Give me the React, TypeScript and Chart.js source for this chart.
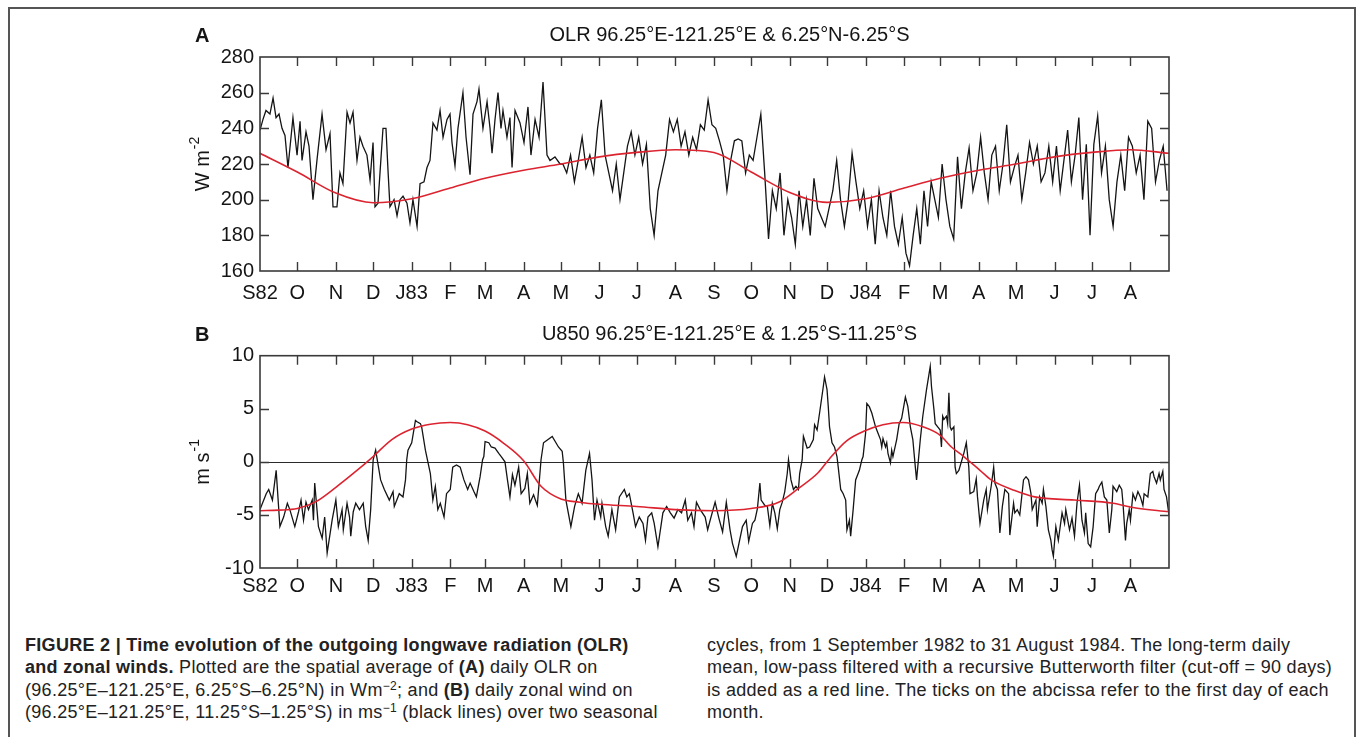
import React, { useEffect, useRef } from "react";
import { Chart, registerables } from "chart.js";

Chart.register(...registerables);

// ---------------- DATA ----------------
// days since 1 Sep 1982 of the first day of each month (last = 31 Aug 1984 end)
const monthStarts = [0, 30, 61, 91, 122, 153, 181, 212, 242, 273, 303, 334, 365, 395, 426, 456, 487, 518, 547, 578, 608, 639, 669, 700, 731];
const monthLabels = ["S82", "O", "N", "D", "J83", "F", "M", "A", "M", "J", "J", "A", "S", "O", "N", "D", "J84", "F", "M", "A", "M", "J", "J", "A"];

const olrTickValues = [160, 180, 200, 220, 240, 260, 280];
const uTickValues = [-10, -5, 0, 5, 10];

// OLR (W m-2), Sep 1982 .. Apr 1983, read at day positions
const olrEarlyDays = [0, 2.4, 4.8, 8, 10.5, 12.9, 15.3, 17.7, 20.1, 22.5, 26.5, 29.8, 32.2, 33.8, 37, 39.4, 42.6, 45.8, 49.9, 53.1, 56.3, 58.7, 61.9, 64.3, 66.7, 70, 72.4, 74.8, 78, 80.4, 82.8, 86, 88.5, 90.9, 92.5, 94.9, 96.5, 98.9, 101.3, 102.9, 104.5, 107.8, 110.2, 112.6, 115, 118.2, 120.6, 123, 126.3, 128.7, 131.9, 134.3, 136.7, 139.1, 142.3, 144.8, 147.2, 150.4, 152.8, 154.4, 156.8, 159.2, 163.2, 165.7, 168.9, 171.3, 174.5, 176.1, 179.3, 182.6, 185, 186.6, 189, 191.4, 193.8, 195.4, 198.6, 201, 202.7, 205.1, 209.1, 212.3, 215.5, 217.9, 221.2, 224.4, 227.6, 230.8, 233.2, 237.2, 241.3];
const olrEarlyValues = [239, 245, 250, 248, 257, 246, 248, 240, 236, 218, 246, 225, 244, 222, 238, 230, 200, 222, 248, 228, 237, 196, 196, 215, 209, 249, 243, 249, 222, 235, 230, 225, 211, 232, 196, 198, 215, 240, 240, 217, 196, 200, 191, 200, 202, 198, 187, 200, 185, 209, 210, 218, 222, 243, 239, 250, 235, 245, 248, 232, 219, 240, 260, 235, 214, 248, 255, 262, 240, 255, 240, 226, 245, 260, 240, 250, 235, 246, 218, 250, 243, 232, 252, 225, 245, 235, 266, 225, 222, 224, 220];

// OLR (W m-2), May 1983 .. Aug 1984, ~3-day samples (10 per month)
const olrMay83 = [220, 215, 225, 210, 222, 235, 218, 225, 215, 240];
const olrJun83 = [256, 225, 215, 205, 220, 200, 215, 230, 238, 225];
const olrJul83 = [235, 220, 231, 195, 180, 205, 215, 225, 245, 238];
const olrAug83 = [245, 230, 238, 225, 235, 228, 242, 239, 256, 242];
const olrSep83 = [240, 233, 225, 205, 222, 233, 234, 233, 215, 225];
const olrOct83 = [222, 235, 248, 215, 178, 205, 195, 215, 180, 200];
const olrNov83 = [190, 175, 205, 185, 200, 180, 212, 195, 190, 185];
const olrDec83 = [195, 205, 222, 200, 185, 200, 226, 210, 195, 205];
const olrJan84 = [185, 200, 175, 205, 190, 180, 205, 185, 175, 190];
const olrFeb84 = [170, 163, 180, 195, 175, 205, 185, 210, 200, 190];
const olrMar84 = [220, 200, 185, 178, 224, 195, 215, 229, 205, 215];
const olrApr84 = [235, 215, 200, 225, 230, 205, 220, 242, 210, 218];
const olrMay84 = [225, 200, 215, 232, 220, 230, 210, 215, 230, 210];
const olrJun84 = [230, 205, 222, 239, 210, 225, 246, 200, 231, 180];
const olrJul84 = [231, 247, 215, 230, 200, 185, 210, 225, 205, 235];
const olrAug84 = [230, 215, 225, 200, 244, 240, 210, 222, 230, 205];
const olrLaterMonths = [olrMay83, olrJun83, olrJul83, olrAug83, olrSep83, olrOct83, olrNov83, olrDec83,
  olrJan84, olrFeb84, olrMar84, olrApr84, olrMay84, olrJun84, olrJul84, olrAug84];
const OLR_LATER_FIRST_MONTH = 8; // May 1983 in monthStarts

// OLR long-term daily mean (low-pass), at month starts
const olrClim = [226, 215.5, 203.7, 198.3, 200.5, 206.5, 212, 216.5, 220, 224, 226.5, 228, 226.5, 215.5, 204, 198.5, 200.5, 206.5, 212, 216.5, 220, 224, 226.5, 228, 226];

// U850 (m s-1)
const uDays = [0, 5, 7, 10, 13, 16, 19, 22, 24, 28, 31, 33, 35, 37, 39, 42, 43, 44, 47, 50, 52, 54, 58, 61, 63, 66, 67, 70, 72, 73, 75, 77, 80, 83, 85, 87, 89, 91, 93, 97, 100, 104, 107, 108, 112, 115, 117, 118, 119, 122, 125, 126, 129, 130, 133, 135, 137, 139, 141, 143, 145, 148, 150, 153, 155, 158, 161, 164, 167, 169, 172, 174, 177, 179, 180, 181, 184, 186, 189, 192, 194, 197, 199, 201, 203, 205, 208, 210, 213, 215, 217, 220, 223, 226, 228, 235, 240, 243, 244, 246, 250, 253, 256, 259, 262, 265, 267, 269, 271, 274, 275, 278, 280, 283, 286, 289, 293, 295, 297, 300, 302, 305, 308, 310, 312, 315, 317, 320, 324, 327, 330, 333, 336, 339, 342, 344, 347, 349, 351, 354, 358, 360, 362, 366, 369, 372, 375, 378, 380, 383, 388, 391, 393, 396, 398, 400, 402, 403, 406, 408, 410, 412, 414, 416, 418, 420, 422, 424, 425, 427, 429, 431, 433, 434, 436, 437, 440, 442, 445, 446, 448, 450, 453, 454, 456, 457, 458, 460, 462, 464, 465, 467, 469, 471, 472, 474, 475, 477, 479, 481, 482, 484, 485, 487, 488, 490, 492, 495, 497, 499, 500, 501, 503, 504, 505, 507, 508, 509, 512, 514, 516, 519, 521, 523, 525, 527, 528, 531, 533, 536, 539, 540, 542, 543, 545, 547, 548, 549, 550, 552, 553, 554, 555, 556, 558, 559, 560, 562, 566, 568, 570, 571, 574, 576, 577, 579, 582, 584, 585, 588, 590, 591, 593, 595, 597, 599, 602, 603, 606, 607, 609, 611, 614, 616, 618, 620, 621, 624, 625, 627, 629, 630, 632, 634, 636, 637, 638, 640, 642, 645, 647, 648, 651, 653, 655, 657, 659, 661, 663, 664, 666, 668, 670, 672, 674, 675, 677, 679, 681, 683, 685, 686, 689, 691, 693, 694, 696, 697, 699, 700, 702, 704, 706, 708, 710, 711, 714, 716, 718, 719, 721, 723, 724, 726, 727, 729, 731];
const uValues = [-4.5, -3.0, -2.6, -3.6, -0.8, -6.1, -5.2, -3.9, -4.5, -6.1, -4.7, -3.6, -5.5, -3.8, -4.5, -3.6, -5.5, -2.0, -6.1, -7.2, -5.2, -8.6, -5.5, -3.6, -6.1, -4.5, -6.4, -3.9, -5.2, -7.0, -4.7, -3.9, -4.5, -3.9, -6.1, -7.4, -4.5, 0.2, 1.1, -1.7, -2.6, -3.6, -2.8, -4.2, -3.0, -3.3, -1.7, 0.2, 1.1, 1.8, 3.9, 3.8, 3.6, 3.3, 1.1, 0.0, -1.1, -3.6, -2.3, -4.5, -3.9, -5.2, -3.0, -2.6, -0.5, -0.3, -0.5, -1.7, -2.6, -2.0, -2.8, -3.3, -1.4, 0.2, 0.5, 1.9, 1.8, 1.4, 1.3, 0.8, 0.5, 0.0, -1.7, -3.3, -1.2, -2.2, -0.5, -3.0, -2.5, -1.1, -3.9, -3.1, -4.1, 0.2, 1.8, 2.4, 1.4, 1.0, -0.1, -3.6, -6.1, -4.2, -3.0, -3.9, -0.8, 0.8, -1.7, -5.5, -3.6, -5.2, -3.9, -6.1, -7.0, -4.5, -6.4, -3.3, -2.6, -3.3, -3.0, -4.8, -6.1, -5.2, -5.8, -7.4, -5.2, -4.8, -5.8, -8.0, -4.8, -4.2, -4.8, -5.3, -4.5, -4.8, -3.6, -5.5, -4.8, -6.1, -3.8, -4.5, -5.2, -6.4, -5.5, -3.8, -5.3, -6.6, -3.8, -6.4, -7.7, -8.9, -6.1, -5.5, -7.5, -5.8, -5.5, -4.4, -2.0, -3.6, -4.1, -4.2, -6.0, -3.9, -4.8, -6.3, -4.5, -3.8, -2.8, -1.1, 0.2, -1.7, -2.6, -2.3, -2.6, -1.1, 0.2, 2.4, 1.3, 1.4, 2.1, 3.5, 3.0, 4.6, 7.1, 8.0, 6.8, 5.2, 3.3, 1.8, 1.4, 0.5, -0.5, -2.6, -3.0, -3.6, -6.4, -5.5, -7.0, -4.5, -1.7, -1.1, -0.8, 0.2, 0.5, 2.7, 5.5, 5.2, 4.6, 3.3, 2.7, 2.1, 1.4, 2.2, 1.4, 1.8, 0.8, -0.1, 1.1, 0.5, 2.1, 3.6, 4.1, 6.1, 5.2, 3.3, 2.1, -0.5, -1.7, 2.1, 4.3, 6.8, 9.0, 7.1, 4.9, 3.6, 3.3, 3.0, 1.4, 4.3, 4.0, 4.3, 3.6, 6.5, 3.3, 3.0, 3.3, -0.5, -1.1, -0.8, 0.8, 1.8, -0.5, -3.0, -2.8, -1.6, -3.3, -5.8, -3.6, -2.6, -4.5, -2.3, -0.5, -2.0, -2.6, -6.7, -4.2, -2.6, -3.0, -6.9, -3.9, -4.8, -4.5, -5.0, -1.7, -1.4, -1.7, -3.0, -4.5, -3.6, -6.1, -3.3, -3.9, -2.6, -4.2, -6.4, -7.4, -8.3, -8.9, -6.1, -7.4, -4.8, -5.8, -4.5, -6.4, -5.3, -7.0, -3.9, -2.2, -5.5, -6.7, -4.8, -7.7, -8.0, -6.1, -3.0, -2.6, -2.3, -1.9, -3.3, -3.6, -6.7, -4.5, -2.3, -2.8, -2.2, -2.6, -3.9, -7.4, -5.8, -4.5, -5.5, -3.0, -3.6, -2.8, -3.3, -4.1, -3.0, -3.3, -1.1, -0.9, -1.4, -2.0, -1.1, -1.7, -0.9, -2.6, -3.3, -5.0];

// U850 long-term daily mean (low-pass)
const uClimDays = [0, 15, 30, 45, 61, 76, 91, 106, 122, 137, 153, 167, 181, 196, 212, 226, 242, 257, 273, 303, 334, 365, 395, 418, 433, 449, 458, 472, 486, 501, 517, 533, 547, 556, 566, 579, 588, 607, 623, 655, 686, 702, 731];
const uClimValues = [-4.6, -4.55, -4.4, -3.75, -2.4, -1.0, 0.5, 2.1, 3.1, 3.55, 3.7, 3.5, 2.9, 1.75, 0.1, -2.3, -3.5, -3.8, -4.0, -4.2, -4.5, -4.6, -4.4, -3.75, -2.5, -1.0, 0.3, 2.0, 2.9, 3.5, 3.7, 3.3, 2.5, 1.4, 0.5, -0.8, -1.7, -2.7, -3.3, -3.6, -3.9, -4.3, -4.7];

// ---------------- DRAWING ----------------
const FONT = '"Liberation Sans", Arial, Helvetica, sans-serif';
const INK = "#151515";

const decorPlugin = {
  id: "decor",
  beforeDatasetsDraw(chart: any) {
    const o = chart.options.plugins.decor;
    const { ctx, chartArea: a, scales } = chart;
    if (o.zeroLine) {
      const y = Math.round(scales.y.getPixelForValue(0)) + 0.5;
      ctx.save();
      ctx.strokeStyle = "#2a2a2a";
      ctx.lineWidth = 1.2;
      ctx.beginPath();
      ctx.moveTo(a.left, y);
      ctx.lineTo(a.right, y);
      ctx.stroke();
      ctx.restore();
    }
  },
  afterDatasetsDraw(chart: any) {
    const o = chart.options.plugins.decor;
    const { ctx, chartArea: a, scales } = chart;
    const xs = scales.x;
    const ys = scales.y;
    ctx.save();
    ctx.strokeStyle = "#3a3a3a";
    ctx.lineWidth = 1.6;
    ctx.strokeRect(a.left, a.top, a.right - a.left, a.bottom - a.top);
    ctx.lineWidth = 1.4;
    ctx.beginPath();
    for (let i = 1; i < o.xTicks.length - 1; i++) {
      const x = Math.round(xs.getPixelForValue(o.xTicks[i])) + 0.5;
      ctx.moveTo(x, a.bottom);
      ctx.lineTo(x, a.bottom - 9);
      ctx.moveTo(x, a.top);
      ctx.lineTo(x, a.top + 9);
    }
    for (let i = 1; i < o.yTicks.length - 1; i++) {
      const y = Math.round(ys.getPixelForValue(o.yTicks[i])) + 0.5;
      ctx.moveTo(a.left, y);
      ctx.lineTo(a.left + 9, y);
      ctx.moveTo(a.right, y);
      ctx.lineTo(a.right - 9, y);
    }
    ctx.stroke();

    ctx.fillStyle = INK;
    ctx.font = `20px ${FONT}`;
    ctx.textAlign = "right";
    ctx.textBaseline = "middle";
    o.yTicks.forEach((v: number) => ctx.fillText(String(v), a.left - 6, ys.getPixelForValue(v)));

    ctx.textAlign = "center";
    ctx.textBaseline = "alphabetic";
    o.xLabels.forEach((lab: string, i: number) => ctx.fillText(lab, xs.getPixelForValue(o.xTicks[i]), a.bottom + o.xLabelOffset));

    ctx.fillText(o.title, (a.left + a.right) / 2 + 15, a.top - 16);

    ctx.font = `bold 20px ${FONT}`;
    ctx.textAlign = "left";
    ctx.fillText(o.letter, 195, a.top - 15);

    // rotated y title with superscript
    ctx.translate(209, (a.top + a.bottom) / 2);
    ctx.rotate(-Math.PI / 2);
    ctx.font = `20px ${FONT}`;
    const w1 = ctx.measureText(o.yTitle).width;
    ctx.font = `14px ${FONT}`;
    const w2 = ctx.measureText(o.yTitleSup).width;
    const start = -(w1 + w2 + 1) / 2;
    ctx.font = `20px ${FONT}`;
    ctx.fillText(o.yTitle, start, 0);
    ctx.font = `14px ${FONT}`;
    ctx.fillText(o.yTitleSup, start + w1 + 1, -10);
    ctx.restore();
  },
};

function makeChart(canvas: HTMLCanvasElement, cfg: any) {
  return new Chart(canvas, {
    type: "line",
    data: {
      datasets: [
        {
          data: cfg.clim,
          borderColor: "#dc2430",
          borderWidth: 1.6,
          pointRadius: 0,
          cubicInterpolationMode: "monotone",
        },
        {
          data: cfg.series,
          borderColor: "#141414",
          borderWidth: 1.3,
          pointRadius: 0,
          tension: 0,
        },
      ],
    },
    options: {
      animation: false,
      responsive: false,
      events: [],
      layout: { padding: cfg.padding },
      plugins: {
        legend: { display: false },
        tooltip: { enabled: false },
        decor: cfg.decor,
      },
      scales: {
        x: { type: "linear", min: 0, max: 731, display: false },
        y: { type: "linear", min: cfg.yMin, max: cfg.yMax, display: false },
      },
    } as any,
    plugins: [decorPlugin as any],
  });
}

const CAP_TOPS = [633.8, 656.1, 678.5, 700.8];

export default function App() {
  const refA = useRef<HTMLCanvasElement>(null);
  const refB = useRef<HTMLCanvasElement>(null);

  useEffect(() => {
    const olrPoints: { x: number; y: number }[] = olrEarlyDays.map((d, i) => ({ x: d, y: olrEarlyValues[i] }));
    olrLaterMonths.forEach((vals, k) => {
      const m = OLR_LATER_FIRST_MONTH + k;
      const s = monthStarts[m];
      const len = monthStarts[m + 1] - s;
      vals.forEach((v, i) => olrPoints.push({ x: s + ((i + 0.5) * len) / vals.length, y: v }));
    });
    const olrClimPts = olrClim.map((v, i) => ({ x: monthStarts[i], y: v }));
    const uPoints = uDays.map((d, i) => ({ x: d, y: uValues[i] }));
    const uClimPts = uClimDays.map((d, i) => ({ x: d, y: uClimValues[i] }));

    const chartA = makeChart(refA.current!, {
      series: olrPoints,
      clim: olrClimPts,
      yMin: 160,
      yMax: 280,
      padding: { left: 260, right: 1356 - 1169, top: 57, bottom: 320 - 271 },
      decor: {
        letter: "A",
        title: "OLR 96.25°E-121.25°E & 6.25°N-6.25°S",
        yTitle: "W m",
        yTitleSup: "-2",
        xTicks: monthStarts,
        xLabels: monthLabels,
        yTicks: olrTickValues,
        xLabelOffset: 28,
        zeroLine: false,
      },
    });
    const chartB = makeChart(refB.current!, {
      series: uPoints,
      clim: uClimPts,
      yMin: -10,
      yMax: 10,
      padding: { left: 260, right: 1356 - 1169, top: 57.7, bottom: 50 },
      decor: {
        letter: "B",
        title: "U850 96.25°E-121.25°E & 1.25°S-11.25°S",
        yTitle: "m s",
        yTitleSup: "-1",
        xTicks: monthStarts,
        xLabels: monthLabels,
        yTicks: uTickValues,
        xLabelOffset: 24,
        zeroLine: true,
      },
    });
    return () => {
      chartA.destroy();
      chartB.destroy();
    };
  }, []);

  const line = (left: number, row: number): React.CSSProperties => ({
    position: "absolute",
    left,
    top: CAP_TOPS[row],
    fontFamily: FONT,
    fontSize: 18,
    letterSpacing: "0.3px",
    lineHeight: "22px",
    height: 22,
    color: "#222",
    whiteSpace: "nowrap",
  });
  const sup: React.CSSProperties = { fontSize: 12, lineHeight: 0, verticalAlign: "6px" };

  return (
    <div style={{ position: "absolute", left: 0, top: 0, width: 1356, height: 737, background: "#fff", overflow: "hidden" }}>
      <div style={{ position: "absolute", left: 8, top: 7, width: 1344, height: 760, border: "2px solid #555", borderBottom: "none" }} />
      <canvas ref={refA} width={1356} height={320} style={{ position: "absolute", left: 0, top: 0 }} />
      <canvas ref={refB} width={1356} height={320} style={{ position: "absolute", left: 0, top: 298 }} />

      <div style={line(25, 0)}>
        <b>FIGURE 2 | Time evolution of the outgoing longwave radiation (OLR)</b>
      </div>
      <div style={line(25, 1)}>
        <b>and zonal winds.</b> Plotted are the spatial average of <b>(A)</b> daily OLR on
      </div>
      <div style={line(25, 2)}>
        (96.25°E–121.25°E, 6.25°S–6.25°N) in Wm<span style={sup}>−2</span>; and <b>(B)</b> daily zonal wind on
      </div>
      <div style={line(25, 3)}>
        (96.25°E–121.25°E, 11.25°S–1.25°S) in ms<span style={sup}>−1</span> (black lines) over two seasonal
      </div>

      <div style={line(707, 0)}>cycles, from 1 September 1982 to 31 August 1984. The long-term daily</div>
      <div style={line(707, 1)}>mean, low-pass filtered with a recursive Butterworth filter (cut-off = 90 days)</div>
      <div style={line(707, 2)}>is added as a red line. The ticks on the abcissa refer to the first day of each</div>
      <div style={line(707, 3)}>month.</div>
    </div>
  );
}
